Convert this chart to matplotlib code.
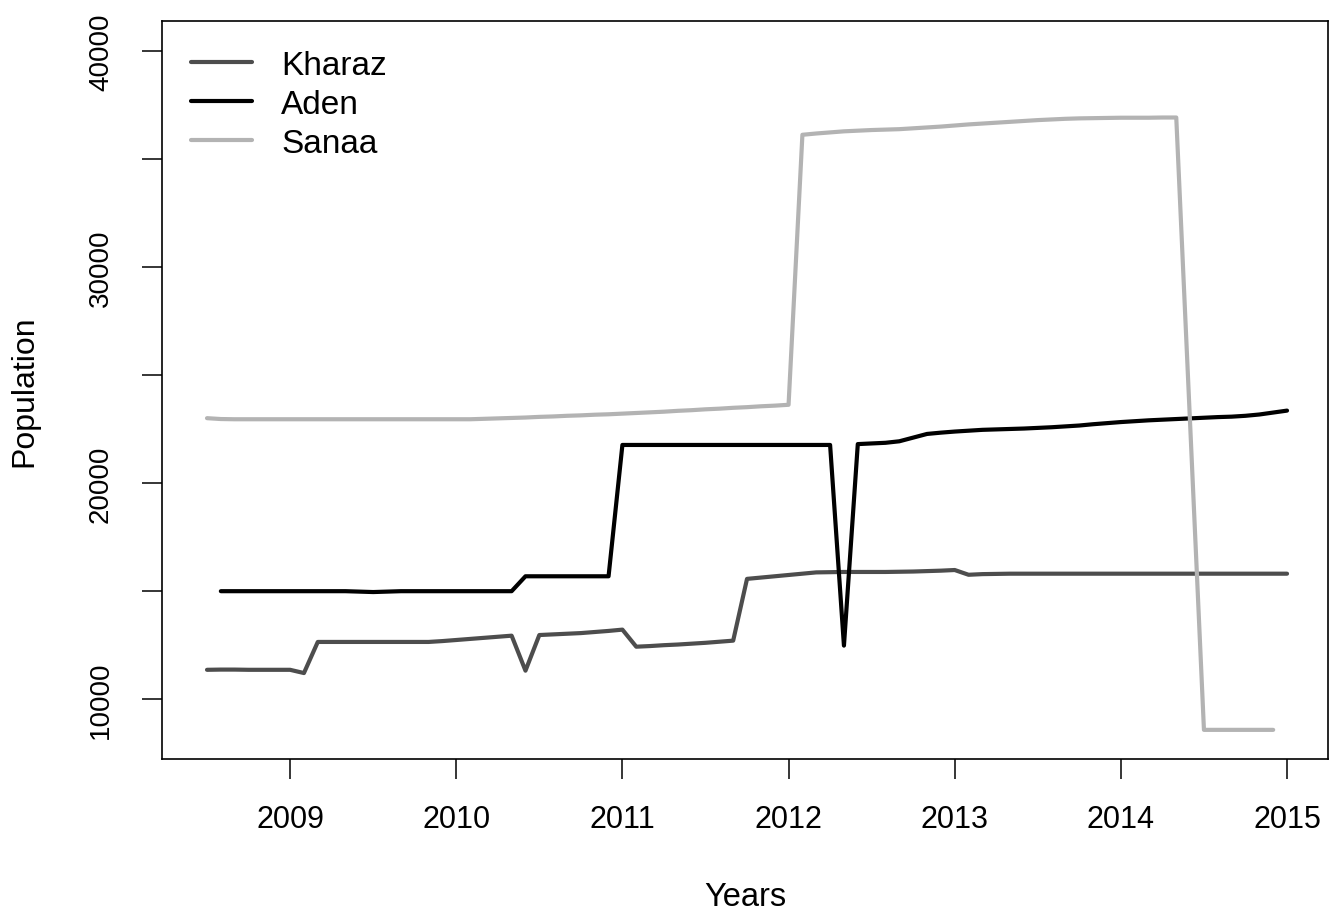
import numpy as np
import matplotlib
matplotlib.use("Agg")
import matplotlib.pyplot as plt

plt.rcParams['font.family'] = ['Liberation Sans', 'DejaVu Sans']

# monthly series, first month = July 2008
start_year = 2008.5

kharaz = [11350, 11360, 11360, 11350, 11350, 11350, 11350,
          11200,
          12640, 12640, 12640, 12640, 12640, 12640, 12640, 12640, 12640,
          12680, 12730, 12780, 12830, 12880, 12930,
          11310,
          12960, 12990, 13020, 13050, 13100, 13150, 13210,
          12420,
          12450, 12490, 12520, 12560, 12600, 12650, 12700,
          15560, 15620, 15680, 15740, 15800, 15860,
          15870, 15880, 15880, 15880, 15880, 15890, 15900, 15920, 15940,
          15970,
          15750,
          15780, 15790] + [15800] * 21

# Aden starts one month later (August 2008)
aden = [14990] * 10 + [14970, 14950, 14970] + [14990] * 9 + \
       [15680] * 7 + [21760] * 16 + [12470] + \
       [21800, 21830, 21860, 21930, 22100, 22270, 22330, 22380, 22420, 22460,
        22480, 22500, 22520, 22550, 22580, 22620, 22660, 22720, 22770, 22820,
        22860, 22900, 22930, 22960, 22990, 23020, 23050, 23070, 23110, 23170,
        23260, 23350]

# Sanaa: July 2008 .. May 2014, then (no June value) July .. December 2014
sanaa_a = [23000, 22960] + [22950] * 18 + \
          [22970, 22990, 23010, 23030, 23060, 23080, 23110, 23130, 23160, 23180,
           23210, 23240, 23270,
           23300, 23340, 23370, 23410, 23440, 23480, 23510, 23550, 23580, 23620,
           36120, 36180, 36230, 36280, 36310, 36340, 36360, 36380, 36420, 36460,
           36500, 36550, 36600, 36640, 36680, 36720, 36760, 36800, 36830, 36860,
           36880, 36890, 36900, 36910, 36910, 36910, 36920, 36920]
sanaa_b = [8570] * 6

labels = ['Kharaz', 'Aden', 'Sanaa']
colors = ['#4d4d4d', '#000000', '#b3b3b3']


def month_x(first, n):
    return start_year + (first + np.arange(n)) / 12.0


x_kharaz = month_x(0, len(kharaz))
x_aden = month_x(1, len(aden))
x_sanaa = np.concatenate([month_x(0, len(sanaa_a)), month_x(72, len(sanaa_b))])
y_sanaa = sanaa_a + sanaa_b

fig = plt.figure(figsize=(13.31, 9.12), dpi=100)
ax = fig.add_axes([0.1217, 0.1667, 0.8761, 0.8092])

style = dict(lw=3.0, solid_capstyle='round', solid_joinstyle='round')
ax.plot(x_kharaz, kharaz, color=colors[0], label=labels[0], **style)
ax.plot(x_aden, aden, color=colors[1], label=labels[1], **style)
ax.plot(x_sanaa, y_sanaa, color=colors[2], label=labels[2], **style)

ax.set_xlim(2008.229, 2015.247)
ax.set_ylim(7222, 41389)

ax.set_xticks(range(2009, 2016))
yt = list(range(10000, 40001, 5000))
ax.set_yticks(yt)
ax.set_yticklabels([str(v) if v % 10000 == 0 else '' for v in yt])

ax.tick_params(axis='both', direction='out', length=14.5, width=1.1,
               color='black')
ax.tick_params(axis='x', labelsize=22, pad=18)
ax.tick_params(axis='y', labelsize=20, labelrotation=90, pad=20)
for t in ax.get_yticklabels():
    t.set_va('center')

for s in ax.spines.values():
    s.set_linewidth(1.2)

ax.set_xlabel('Years', fontsize=23.5, labelpad=34)
ax.set_ylabel('Population', fontsize=23, labelpad=35)

ax.legend(loc='upper left', frameon=False, fontsize=24,
          handlelength=1.83, handletextpad=0.87, labelspacing=0.24,
          borderpad=0, borderaxespad=0, bbox_to_anchor=(0.025, 0.961))

fig.savefig('out.png', dpi=100)
